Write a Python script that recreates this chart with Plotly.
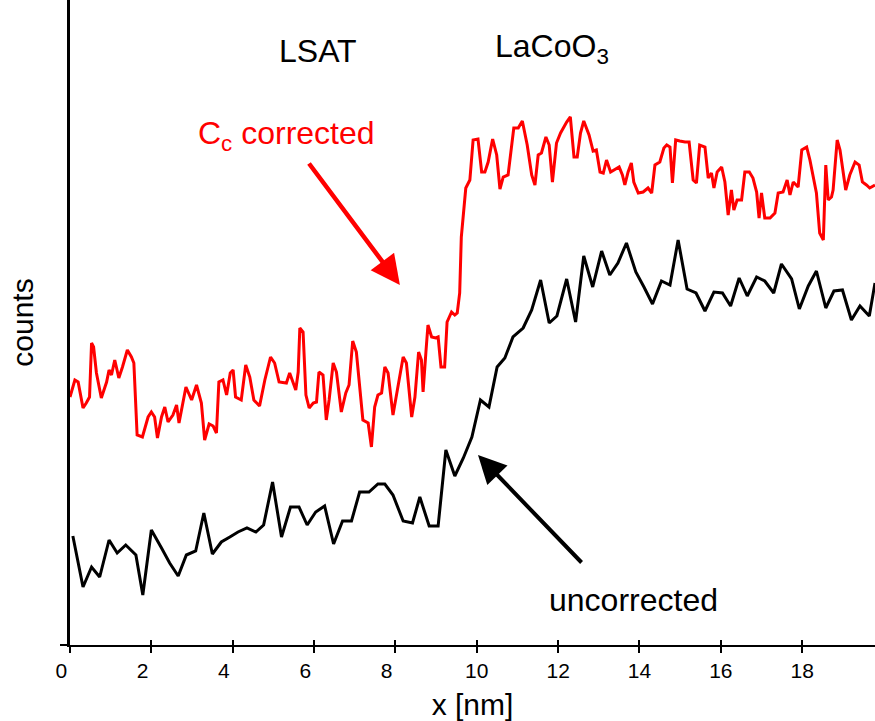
import plotly.graph_objects as go

# ---- data (x in nm, counts in arbitrary units) ----
red_x = [0.00, 0.12, 0.20, 0.32, 0.40, 0.48, 0.53, 0.58, 0.65, 0.77,
         0.90, 0.96, 1.02, 1.10, 1.14, 1.20, 1.29, 1.41, 1.51, 1.57,
         1.65, 1.78, 1.92, 2.00, 2.08, 2.15, 2.25, 2.33, 2.41, 2.53,
         2.62, 2.68, 2.85, 2.99, 3.11, 3.23, 3.31, 3.42, 3.52, 3.60,
         3.66, 3.76, 3.85, 3.94, 4.01, 4.07, 4.21, 4.32, 4.42, 4.52,
         4.66, 4.79, 4.93, 5.03, 5.14, 5.32, 5.40, 5.48, 5.55, 5.61,
         5.65, 5.73, 5.80, 5.88, 5.98, 6.06, 6.12, 6.22, 6.30, 6.37,
         6.47, 6.55, 6.67, 6.78, 6.86, 6.95, 7.04, 7.20, 7.33, 7.41,
         7.49, 7.57, 7.66, 7.74, 7.82, 7.94, 8.04, 8.19, 8.27, 8.40,
         8.48, 8.57, 8.64, 8.68, 8.75, 8.80, 8.89, 8.99, 9.05, 9.12,
         9.21, 9.27, 9.38, 9.46, 9.52, 9.58, 9.62, 9.73, 9.83, 9.91,
         10.03, 10.12, 10.20, 10.28, 10.39, 10.49, 10.57, 10.65, 10.77, 10.91,
         11.02, 11.12, 11.24, 11.35, 11.43, 11.51, 11.59, 11.70, 11.78, 11.86,
         11.96, 12.06, 12.21, 12.30, 12.39, 12.47, 12.55, 12.63, 12.76, 12.86,
         12.94, 13.03, 13.11, 13.19, 13.29, 13.39, 13.50, 13.58, 13.64, 13.72,
         13.80, 13.86, 13.97, 14.09, 14.21, 14.30, 14.38, 14.50, 14.60, 14.67,
         14.75, 14.81, 14.89, 14.99, 15.12, 15.22, 15.32, 15.40, 15.48, 15.61,
         15.69, 15.77, 15.83, 15.91, 16.02, 16.10, 16.18, 16.26, 16.32, 16.40,
         16.51, 16.59, 16.70, 16.79, 16.88, 16.94, 17.00, 17.08, 17.21, 17.33,
         17.41, 17.53, 17.63, 17.70, 17.78, 17.90, 17.99, 18.11, 18.19, 18.35,
         18.43, 18.52, 18.58, 18.64, 18.72, 18.76, 18.86, 18.93, 19.07, 19.17,
         19.30, 19.40, 19.48, 19.58, 19.66, 19.79]
red_counts = [248, 265, 263, 237, 242, 248, 302, 298, 272, 247,
              263, 275, 270, 285, 278, 267, 278, 295, 288, 282,
              210, 208, 228, 233, 228, 207, 228, 238, 223, 230,
              240, 222, 258, 245, 260, 242, 205, 221, 219, 212,
              263, 265, 250, 272, 275, 248, 245, 280, 268, 245,
              239, 265, 288, 282, 263, 262, 272, 263, 255, 273,
              317, 313, 250, 237, 242, 243, 273, 270, 225, 245,
              282, 273, 233, 252, 260, 304, 293, 225, 222, 198,
              238, 250, 252, 278, 272, 230, 255, 288, 282, 228,
              248, 293, 285, 253, 293, 320, 308, 307, 308, 278,
              278, 323, 333, 330, 332, 352, 408, 457, 465, 505,
              506, 473, 473, 483, 506, 490, 456, 468, 470, 517,
              517, 524, 500, 470, 460, 490, 492, 508, 500, 463,
              502, 512, 523, 528, 488, 488, 512, 524, 510, 494,
              495, 473, 472, 485, 473, 475, 478, 470, 460, 473,
              482, 463, 452, 453, 457, 452, 480, 483, 497, 500,
              498, 462, 505, 504, 503, 503, 465, 462, 500, 498,
              467, 472, 457, 473, 478, 463, 430, 455, 435, 445,
              445, 473, 473, 467, 453, 427, 452, 427, 427, 432,
              452, 453, 465, 450, 463, 458, 495, 498, 485, 452,
              412, 405, 480, 445, 448, 455, 505, 495, 455, 470,
              483, 480, 463, 460, 457, 460]

black_x = [0.07, 0.32, 0.53, 0.73, 0.96, 1.16, 1.37, 1.62, 1.79, 2.00,
           2.25, 2.45, 2.66, 2.86, 3.09, 3.29, 3.50, 3.72, 3.93, 4.13,
           4.35, 4.57, 4.76, 4.98, 5.20, 5.42, 5.63, 5.83, 6.04, 6.26,
           6.48, 6.70, 6.92, 7.12, 7.35, 7.57, 7.74, 7.94, 8.19, 8.42,
           8.60, 8.83, 9.05, 9.24, 9.46, 9.67, 9.88, 10.09, 10.30, 10.50,
           10.69, 10.89, 11.14, 11.35, 11.57, 11.78, 11.97, 12.21, 12.43, 12.63,
           12.85, 13.07, 13.27, 13.47, 13.68, 13.91, 14.11, 14.32, 14.54, 14.75,
           14.95, 15.17, 15.39, 15.61, 15.83, 16.04, 16.24, 16.45, 16.65, 16.88,
           17.08, 17.30, 17.49, 17.74, 17.93, 18.15, 18.35, 18.58, 18.78, 18.99,
           19.21, 19.42, 19.65, 19.79]
black_counts = [109, 58, 78, 68, 105, 92, 100, 90, 50, 115,
                97, 82, 69, 90, 94, 132, 91, 103, 108, 113,
                117, 113, 120, 163, 108, 138, 138, 120, 133, 139,
                101, 124, 124, 153, 153, 161, 161, 150, 124, 122,
                148, 119, 119, 195, 169, 187, 208, 245, 238, 278,
                287, 308, 317, 335, 365, 322, 329, 366, 323, 389,
                358, 394, 370, 382, 402, 373, 358, 341, 364, 360,
                405, 356, 352, 334, 353, 352, 339, 367, 349, 368,
                364, 352, 381, 366, 336, 359, 374, 337, 354, 355,
                325, 339, 329, 362]

tick_vals = [0, 2, 4, 6, 8, 10, 12, 14, 16, 18]
tick_labels = ["0", "2", "4", "6", "8", "10", "12", "14", "16", "18"]

FONT = "Liberation Sans, Arial, sans-serif"
NB = "\u00a0"
# single-digit labels sit a little left of their tick in the original
tick_text = [t + NB * 3 if len(t) == 1 else t for t in tick_labels]

fig = go.Figure()
fig.add_trace(go.Scatter(x=black_x, y=black_counts, mode="lines",
                         line=dict(color="black", width=3), name="uncorrected"))
fig.add_trace(go.Scatter(x=red_x, y=red_counts, mode="lines",
                         line=dict(color="#ff0000", width=3), name="Cc corrected"))
# invisible trace to activate the overlaid axis used for inner tick halves
fig.add_trace(go.Scatter(x=[0], y=[0], xaxis="x2", mode="markers",
                         marker=dict(opacity=0), hoverinfo="skip", showlegend=False))

XR = [0, 19.79]
fig.update_layout(
    width=875, height=721,
    margin=dict(l=70, r=0, t=0, b=76),
    paper_bgcolor="white", plot_bgcolor="white",
    showlegend=False,
    font=dict(family=FONT, color="black"),
    xaxis=dict(range=XR, tickvals=tick_vals, ticktext=tick_text,
               ticks="outside", ticklen=6, tickwidth=2, tickcolor="black",
               showline=True, linecolor="black", linewidth=1.5,
               showgrid=False, zeroline=False,
               tickfont=dict(size=21, family=FONT, color="black"),
               title=dict(text="x [nm]", font=dict(size=30, family=FONT), standoff=16)),
    xaxis2=dict(range=XR, overlaying="x", anchor="y", side="bottom",
                tickvals=tick_vals, ticks="inside", ticklen=5, tickwidth=2,
                tickcolor="black", showticklabels=False, showline=False,
                showgrid=False, zeroline=False),
    yaxis=dict(range=[0, 645], tickvals=[0], showticklabels=False,
               ticks="outside", ticklen=7, tickwidth=1.5, tickcolor="black",
               showline=True, linecolor="black", linewidth=2.5,
               showgrid=False, zeroline=False,
               title=dict(text="counts", font=dict(size=30, family=FONT), standoff=18)),
)

TXT = dict(size=32, family=FONT)
fig.add_annotation(x=6.09, y=594, text="LSAT", showarrow=False,
                   xanchor="center", yanchor="middle", font=dict(**TXT, color="black"))
fig.add_annotation(x=10.40, y=597, text="LaCoO<sub>3</sub>", showarrow=False,
                   xanchor="left", yanchor="middle", font=dict(**TXT, color="black"))
fig.add_annotation(x=3.09, y=510, text="C<sub>c</sub> corrected", showarrow=False,
                   xanchor="left", yanchor="middle", font=dict(**TXT, color="#ff0000"))
fig.add_annotation(x=11.72, y=45, text="uncorrected", showarrow=False,
                   xanchor="left", yanchor="middle", font=dict(**TXT, color="black"))

# arrows
fig.add_annotation(x=8.11, y=360, ax=-92, ay=-123, text="", showarrow=True,
                   arrowhead=2, arrowsize=1.3, arrowwidth=4.5, arrowcolor="#ff0000")
fig.add_annotation(x=10.03, y=190, ax=105, ay=109, text="", showarrow=True,
                   arrowhead=2, arrowsize=1.4, arrowwidth=4, arrowcolor="black")

fig.write_html("out.html",
               config={"displayModeBar": False},
               post_script="document.body.style.margin='0px';document.body.style.overflow='hidden';")
